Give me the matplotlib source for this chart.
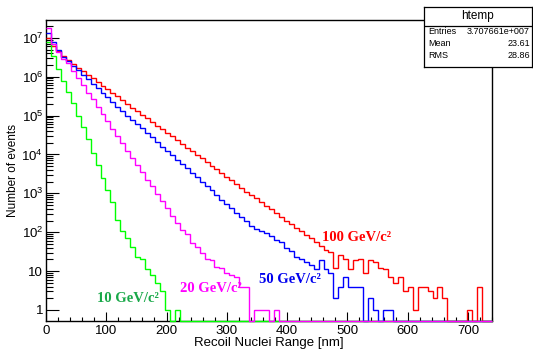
import numpy as np
import matplotlib
matplotlib.use("Agg")
import matplotlib.pyplot as plt
from matplotlib.ticker import FixedLocator, FuncFormatter, MultipleLocator, NullFormatter

plt.rcParams['font.family'] = ['Liberation Sans', 'DejaVu Sans']
plt.rcParams['mathtext.fontset'] = 'custom'
plt.rcParams['mathtext.rm'] = 'Liberation Sans'
plt.rcParams['mathtext.it'] = 'Liberation Sans:italic'

# histogram binning (nm)
x_min, x_max, n_bins = 0, 740, 90
edges = np.linspace(x_min, x_max, n_bins + 1)

# bin contents, per WIMP mass
counts_100 = [1.0e7, 6.0e6, 4.6e6, 3.4e6, 2.7e6, 2.1e6, 1.7e6, 1.4e6, 1.1e6, 9.1e5,
              7.4e5, 5.9e5, 4.8e5, 3.8e5, 3.1e5, 2.5e5, 2.0e5, 1.6e5, 1.3e5, 1.05e5,
              8.5e4, 6.8e4, 5.5e4, 4.5e4, 3.5e4, 2.9e4, 2.3e4, 1.9e4, 1.5e4, 1.2e4,
              9800, 7900, 6300, 5100, 4200, 3300, 2700, 2200, 1700, 1400,
              1100, 910, 740, 590, 480, 390, 310, 250, 200, 160,
              130, 105, 85, 69, 55, 45, 35, 31, 12, 26,
              21, 11, 19, 20, 9, 19, 17, 12, 11, 7,
              5, 7, 3, 4, 1, 4, 4, 3, 2, 4,
              2, 0, 0, 0, 0, 1, 0, 4, 0, 0]
counts_50 = [1.3e7, 7.9e6, 4.8e6, 3.2e6, 2.5e6, 1.9e6, 1.45e6, 1.1e6, 8.5e5, 6.5e5,
             5.0e5, 3.9e5, 3.0e5, 2.3e5, 1.7e5, 1.35e5, 1.0e5, 7.9e4, 6.2e4, 4.7e4,
             3.6e4, 2.8e4, 2.1e4, 1.6e4, 1.26e4, 9800, 7400, 5800, 4400, 3400,
             2600, 2000, 1550, 1200, 910, 690, 540, 410, 320, 245,
             190, 145, 120, 105, 95, 79, 63, 56, 40, 32,
             23, 21, 17, 14, 11, 19, 11, 9, 2, 4,
             7, 4, 4, 4, 0, 2, 1, 0, 1, 1]
counts_20 = [1.8e7, 7.1e6, 4.2e6, 2.8e6, 2.2e6, 1.4e6, 9.3e5, 6.0e5, 3.9e5, 2.6e5,
             1.66e5, 1.07e5, 7.1e4, 4.6e4, 3.0e4, 1.95e4, 1.26e4, 8100, 5400, 3500,
             2200, 1500, 950, 620, 410, 260, 170, 112, 89, 52,
             42, 30, 21, 19, 13, 12, 9, 8, 7, 4,
             4, 0, 1, 1, 1, 0, 1]
counts_10 = [8.0e6, 3.5e6, 1.6e6, 7.9e5, 4.0e5, 2.1e5, 1.0e5, 5.2e4, 2.5e4, 1.1e4,
             5200, 2500, 1200, 600, 210, 105, 71, 42, 23, 20,
             11, 8, 5, 3, 1, 0, 1]

labels = ["100 GeV/c²", "50 GeV/c²", "20 GeV/c²", "10 GeV/c²"]
line_colors = ["#ff0000", "#0000ff", "#ff00ff", "#00ff00"]
text_colors = ["#ff0000", "#0000ee", "#ff00ff", "#18a848"]

stats_title = "htemp"
stats_rows = [("Entries", "3.707661e+007"), ("Mean", "23.61"), ("RMS", "28.86")]

y_min, y_max = 0.52, 2.96e7


def pad(c):
    c = np.asarray(c, dtype=float)
    return np.concatenate([c, np.zeros(n_bins - len(c))])


fig = plt.figure(figsize=(5.33, 3.54), dpi=100)
ax = fig.add_axes([46 / 533, 33 / 354, 446 / 533, 301.5 / 354])

# drawing order: magenta ends up on top, as in the original
series = [counts_100, counts_50, counts_10, counts_20]
cols = [line_colors[0], line_colors[1], line_colors[3], line_colors[2]]
for c, col in zip(series, cols):
    v = pad(c)
    v = np.where(v > 0, v, y_min)  # empty bins sit on the frame, like ROOT
    ax.stairs(v, edges, baseline=None, color=col, lw=1.0, clip_on=False, zorder=3)

ax.set_yscale("log")
ax.set_xlim(x_min, x_max)
ax.set_ylim(y_min, y_max)

# ROOT-like ticks: inside, left and bottom only
ax.xaxis.set_major_locator(MultipleLocator(100))
ax.xaxis.set_minor_locator(MultipleLocator(20))
ax.yaxis.set_major_locator(FixedLocator([10.0 ** k for k in range(8)]))
ax.yaxis.set_minor_locator(FixedLocator([m * 10.0 ** k for k in range(8) for m in range(2, 10)]))
ax.yaxis.set_minor_formatter(NullFormatter())


def ylab(v, _):
    k = int(round(np.log10(v)))
    if k == 0:
        return "1"
    if k == 1:
        return "10"
    return r"$10^{%d}$" % k


ax.yaxis.set_major_formatter(FuncFormatter(ylab))
ax.tick_params(which="both", direction="in", top=False, right=False, labelsize=9.5, colors="black")
ax.tick_params(axis="x", which="major", length=6.5, width=0.8, pad=3)
ax.tick_params(axis="x", which="minor", length=3.2, width=0.8)
ax.tick_params(axis="y", which="major", length=9.4, width=0.8, pad=2)
ax.tick_params(axis="y", which="minor", length=4.8, width=0.8)
for s in ax.spines.values():
    s.set_linewidth(1.0)

ax.set_xlabel("Recoil Nuclei Range [nm]", fontsize=9.5, labelpad=0)
ax.set_ylabel("Number of events", fontsize=8.5, labelpad=2)

# curve labels
label_pos = [(516, 75), (405, 5.9), (274, 3.5), (136, 2.0)]
for txt, col, (lx, ly) in zip(labels, text_colors, label_pos):
    ax.text(lx, ly, txt, color=col, fontsize=10.5, fontweight="bold",
            family=["Liberation Serif", "DejaVu Serif"], ha="center", va="center", zorder=5)

# statistics box
sb = fig.add_axes([424 / 533, (354 - 67) / 354, 108 / 533, 60 / 354], zorder=10)
sb.set_xticks([])
sb.set_yticks([])
sb.set_facecolor("white")
for s in sb.spines.values():
    s.set_linewidth(0.9)
sb.set_xlim(0, 1)
sb.set_ylim(0, 1)
sb.axhline(0.683, color="black", lw=0.9)
sb.text(0.5, 0.845, stats_title, ha="center", va="center", fontsize=8.5)
row_y = [0.585, 0.395, 0.2]
for (k, val), yy in zip(stats_rows, row_y):
    sb.text(0.04, yy, k, ha="left", va="center", fontsize=6.5)
    sb.text(0.98, yy, val, ha="right", va="center", fontsize=6.5)

fig.savefig("out.png", dpi=100)
